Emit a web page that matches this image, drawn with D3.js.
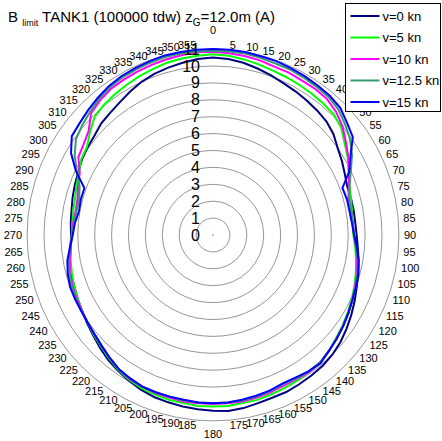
<!DOCTYPE html>
<html>
<head>
<meta charset="utf-8">
<script src="https://cdn.jsdelivr.net/npm/d3@7"></script>
<style>
  html, body { margin: 0; padding: 0; background: #ffffff; }
  svg { display: block; font-family: "Liberation Sans", Arial, Helvetica, sans-serif; }
</style>
</head>
<body>
<svg id="chart" width="442" height="441"></svg>
<script>
// Heading angles in degrees (clockwise from top)
const headings = [0,5,10,15,20,25,30,35,40,45,50,55,60,65,70,75,80,85,
  90,95,100,105,110,115,120,125,130,135,140,145,150,155,160,165,170,175,
  180,185,190,195,200,205,210,215,220,225,230,235,240,245,250,255,260,265,
  270,275,280,285,290,295,300,305,310,315,320,325,330,335,340,345,350,355];

// Radial tick values
const radialTicks = [0,1,2,3,4,5,6,7,8,9,10,11];

// Series names and colours
const seriesNames = ["v=0 kn", "v=5 kn", "v=10 kn", "v=12.5 kn", "v=15 kn"];
const seriesColors = ["#000080", "#00ff00", "#ff00ff", "#3d9970", "#0000ff"];

// B limit per heading for each speed
const v0 = [10.5,10.45,10.35,10.2,10.05,9.9,9.8,9.7,9.6,9.5,9.3,9.0,8.8,8.6,8.45,8.45,8.45,8.45,
  8.5,8.6,8.75,8.9,9.05,9.25,9.45,9.65,9.85,10.0,10.1,10.15,10.2,10.25,10.25,10.3,10.4,10.45,
  10.4,10.35,10.3,10.25,10.2,10.1,9.95,9.8,9.65,9.45,9.25,9.1,8.95,8.85,8.75,8.7,8.6,8.45,
  8.4,8.45,8.5,8.6,8.7,8.8,8.95,9.05,9.15,9.35,9.45,9.6,9.8,10.0,10.15,10.25,10.35,10.45];
const v5 = [10.7,10.65,10.55,10.45,10.35,10.3,10.25,10.2,10.15,10.1,9.9,9.5,9.2,8.85,8.6,8.45,8.35,8.3,
  8.3,8.45,8.6,8.75,8.9,9.05,9.2,9.35,9.5,9.7,9.85,9.9,9.95,10.0,10.05,10.1,10.1,10.15,
  10.15,10.15,10.1,10.1,10.05,10.0,9.9,9.75,9.55,9.35,9.2,9.05,8.95,8.85,8.75,8.65,8.55,8.45,
  8.35,8.35,8.4,8.45,8.6,8.75,9.0,9.1,9.5,9.9,10.05,10.15,10.25,10.35,10.45,10.55,10.6,10.65];
const v10 = [10.85,10.8,10.75,10.7,10.6,10.6,10.55,10.55,10.5,10.3,10.0,9.6,9.25,8.9,8.55,8.3,8.3,8.3,
  8.35,8.5,8.65,8.8,8.95,9.1,9.25,9.4,9.55,9.7,9.85,9.9,9.85,9.85,9.9,9.95,10.0,10.0,
  10.0,10.0,10.0,9.95,9.95,9.9,9.85,9.7,9.5,9.3,9.15,9.05,8.95,8.9,8.85,8.75,8.6,8.45,
  8.35,8.3,8.25,8.3,8.5,8.7,9.2,9.35,9.6,10.2,10.4,10.55,10.6,10.65,10.7,10.75,10.8,10.85];
const v12_5 = [10.9,10.9,10.9,10.85,10.8,10.8,10.75,10.7,10.65,10.5,10.2,9.9,9.5,9.0,8.6,8.35,8.3,8.3,
  8.35,8.5,8.7,8.85,9.0,9.1,9.25,9.4,9.55,9.7,9.85,9.85,9.8,9.75,9.85,9.9,9.95,9.95,
  9.95,9.95,9.95,9.9,9.9,9.9,9.8,9.7,9.5,9.3,9.15,9.05,9.0,8.95,8.9,8.8,8.65,8.5,
  8.35,8.25,8.2,8.2,8.4,8.9,9.45,9.9,10.1,10.3,10.5,10.65,10.75,10.8,10.85,10.9,10.9,10.9];
const v15 = [11.0,11.0,11.0,10.95,10.95,10.9,10.85,10.8,10.75,10.65,10.35,10.1,9.4,8.9,8.15,8.2,8.2,8.25,
  8.35,8.55,8.75,8.9,9.0,9.1,9.25,9.4,9.55,9.7,9.9,9.85,9.75,9.7,9.8,9.85,9.9,9.95,
  9.95,9.95,9.9,9.9,9.9,9.9,9.8,9.7,9.5,9.3,9.15,9.05,9.0,9.0,9.0,8.9,8.75,8.5,
  8.3,8.2,8.05,8.1,8.1,8.95,9.7,10.2,10.3,10.45,10.6,10.75,10.85,10.9,10.95,11.0,11.0,11.0];

const seriesValues = [v0, v5, v10, v12_5, v15];

// ---- layout ----
const svg = d3.select("#chart");
const cx = 213, cy = 235;
const rMax = 11;
const r = d3.scaleLinear().domain([0, rMax]).range([0, rMax * 16.9]);
const toRad = d => d * Math.PI / 180;

svg.append("rect").attr("width", 442).attr("height", 441).attr("fill", "#ffffff");

// title with subscripts
const title = svg.append("text")
  .attr("x", 8).attr("y", 22)
  .attr("font-size", 15).attr("fill", "#000");
title.append("tspan").text("B ");
title.append("tspan").attr("font-size", 9).attr("dy", 4).text("limit");
title.append("tspan").attr("dy", -4).text(" TANK1 (100000 tdw) z");
title.append("tspan").attr("font-size", 10).attr("dy", 4).text("G");
title.append("tspan").attr("dy", -4).text("=12.0m (A)");

const plot = svg.append("g").attr("transform", `translate(${cx},${cy})`);

// grid circles
plot.append("g").selectAll("circle")
  .data(radialTicks.filter(t => t > 0))
  .join("circle")
  .attr("r", d => r(d))
  .attr("fill", "none")
  .attr("stroke", "#8a8a8a")
  .attr("stroke-width", 0.9);

// centre mark
plot.append("circle").attr("r", 0.8).attr("fill", "#777");

// heading labels around the rim
const rimR = 191;
plot.append("g").selectAll("text")
  .data(headings)
  .join("text")
  .attr("font-size", 11)
  .attr("fill", "#000")
  .attr("dominant-baseline", "central")
  .attr("text-anchor", d => {
    const s = Math.sin(toRad(d));
    return s > 0.05 ? "start" : (s < -0.05 ? "end" : "middle");
  })
  .attr("x", d => rimR * Math.sin(toRad(d)))
  .attr("y", d => {
    const c = Math.cos(toRad(d));
    const rr = Math.abs(Math.sin(toRad(d))) < 0.05 ? (c > 0 ? 205 : 199) : rimR;
    return -rr * c;
  })
  .text(d => d);

// data curves
const line = d3.lineRadial()
  .angle(d => toRad(d[0]))
  .radius(d => r(d[1]))
  .curve(d3.curveLinearClosed);

plot.append("g").selectAll("path")
  .data(seriesValues)
  .join("path")
  .attr("d", vals => line(headings.map((h, i) => [h, vals[i]])))
  .attr("fill", "none")
  .attr("stroke", (d, i) => seriesColors[i])
  .attr("stroke-width", 2)
  .attr("stroke-linejoin", "miter");

// radial tick labels along the vertical
plot.append("g").selectAll("text")
  .data(radialTicks)
  .join("text")
  .attr("x", -13)
  .attr("y", d => -r(d))
  .attr("text-anchor", "end")
  .attr("dominant-baseline", "central")
  .attr("font-size", 16)
  .attr("fill", "#000")
  .text(d => d);

// legend
const lg = svg.append("g").attr("transform", "translate(345.5,3.5)");
lg.append("rect").attr("width", 95).attr("height", 108)
  .attr("fill", "#fff").attr("stroke", "#000").attr("stroke-width", 1);
const rows = lg.selectAll("g.row").data(seriesNames).join("g")
  .attr("class", "row")
  .attr("transform", (d, i) => `translate(0,${12.5 + i * 21.5})`);
rows.append("line").attr("x1", 5).attr("x2", 34).attr("y1", 0).attr("y2", 0)
  .attr("stroke", (d, i) => seriesColors[i]).attr("stroke-width", 2);
rows.append("text").attr("x", 37).attr("y", 0)
  .attr("dominant-baseline", "central")
  .attr("font-size", 13).attr("fill", "#000")
  .text(d => d);
</script>
</body>
</html>
